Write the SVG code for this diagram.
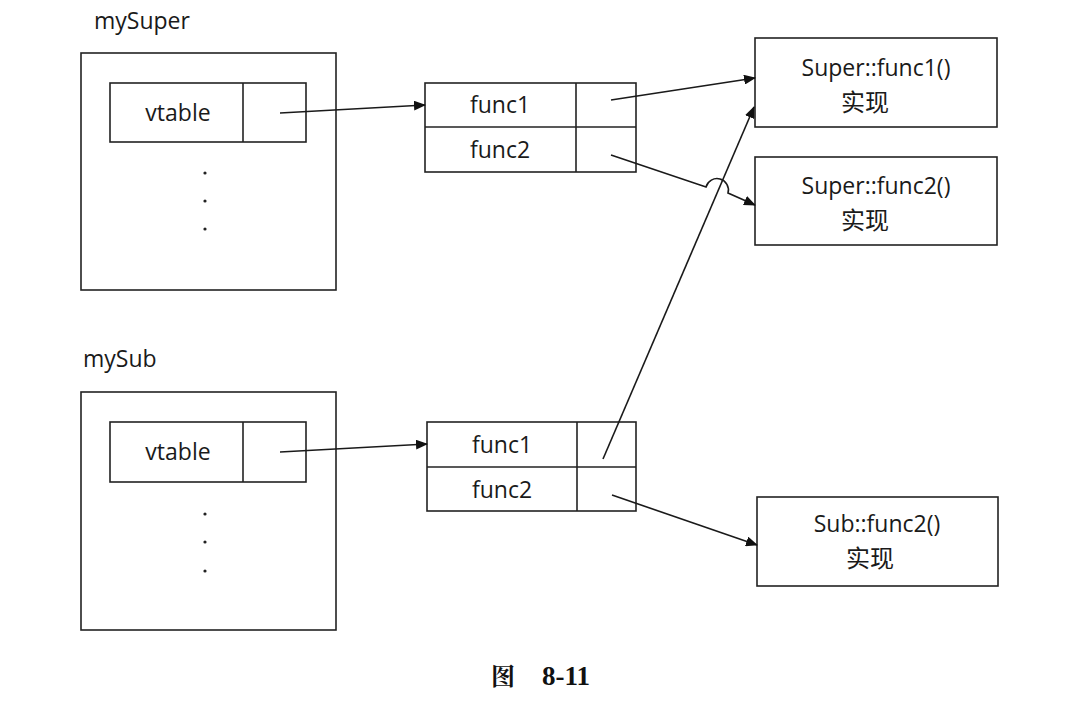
<svg xmlns="http://www.w3.org/2000/svg" width="1086" height="702" viewBox="0 0 1086 702">
<defs>
<style>
.box{fill:none;stroke:#222;stroke-width:1.6}
.t{font-family:"Open Sans","Noto Sans CJK SC",sans-serif;font-size:23px;fill:#1a1a1a}
.cjk{font-family:"Noto Sans CJK SC",sans-serif;font-size:24px;fill:#1a1a1a}
.c{text-anchor:middle}
.ln{fill:none;stroke:#1a1a1a;stroke-width:1.6}
.dot{fill:#222}
.cap{font-family:"Liberation Serif","Noto Serif CJK SC","Noto Sans CJK SC",serif;font-weight:bold;fill:#111}
</style>
<marker id="ah" markerWidth="12" markerHeight="10" refX="11" refY="5" orient="auto" markerUnits="userSpaceOnUse">
<path d="M0,0 L12,5 L0,10 Z" fill="#111"/>
</marker>
</defs>
<rect width="1086" height="702" fill="#fff"/>

<g id="mySuper">
<text class="t" x="94" y="29">mySuper</text>
<rect class="box" x="81" y="53" width="255" height="237"/>
<rect class="box" x="110" y="83" width="196" height="59"/>
<line class="box" x1="243" y1="83" x2="243" y2="142"/>
<text class="t c" x="178" y="121">vtable</text>
<circle class="dot" cx="205" cy="173" r="1.6"/>
<circle class="dot" cx="205" cy="201" r="1.6"/>
<circle class="dot" cx="205" cy="229" r="1.6"/>
</g>

<g id="superVtable">
<rect class="box" x="425" y="83" width="211" height="89"/>
<line class="box" x1="425" y1="127" x2="636" y2="127"/>
<line class="box" x1="576" y1="83" x2="576" y2="172"/>
<text class="t c" x="500" y="113">func1</text>
<text class="t c" x="500" y="158">func2</text>
</g>

<g id="superFunc1">
<rect class="box" x="755" y="38" width="242" height="89"/>
<text class="t c" x="876" y="76">Super::func1()</text>
<text class="cjk c" x="865" y="111">实现</text>
</g>

<g id="superFunc2">
<rect class="box" x="755" y="157" width="242" height="88"/>
<text class="t c" x="876" y="194">Super::func2()</text>
<text class="cjk c" x="865" y="229">实现</text>
</g>

<g id="mySub">
<text class="t" x="83" y="367">mySub</text>
<rect class="box" x="81" y="392" width="255" height="238"/>
<rect class="box" x="110" y="422" width="196" height="60"/>
<line class="box" x1="243" y1="422" x2="243" y2="482"/>
<text class="t c" x="178" y="460">vtable</text>
<circle class="dot" cx="205" cy="514" r="1.6"/>
<circle class="dot" cx="205" cy="542" r="1.6"/>
<circle class="dot" cx="205" cy="571" r="1.6"/>
</g>

<g id="subVtable">
<rect class="box" x="427" y="422" width="209" height="89"/>
<line class="box" x1="427" y1="467" x2="636" y2="467"/>
<line class="box" x1="577" y1="422" x2="577" y2="511"/>
<text class="t c" x="502" y="453">func1</text>
<text class="t c" x="502" y="498">func2</text>
</g>

<g id="subFunc2">
<rect class="box" x="757" y="497" width="241" height="89"/>
<text class="t c" x="877" y="532">Sub::func2()</text>
<text class="cjk c" x="870" y="567">实现</text>
</g>

<g id="connectors">
<line class="ln" x1="280" y1="113" x2="425" y2="105" marker-end="url(#ah)"/>
<line class="ln" x1="611" y1="100" x2="755" y2="78" marker-end="url(#ah)"/>
<path class="ln" d="M611,155 L706,187 A8,8 0 0 1 728,193 L755,205" marker-end="url(#ah)"/>
<line class="ln" x1="603" y1="459" x2="754" y2="107" marker-end="url(#ah)"/>
<line class="ln" x1="280" y1="452" x2="427" y2="444" marker-end="url(#ah)"/>
<line class="ln" x1="612" y1="495" x2="757" y2="545" marker-end="url(#ah)"/>
</g>

<g id="caption">
<text class="cap" x="491" y="685" font-size="24">图</text>
<text class="cap" x="542" y="685" font-size="27">8-11</text>
</g>
</svg>
